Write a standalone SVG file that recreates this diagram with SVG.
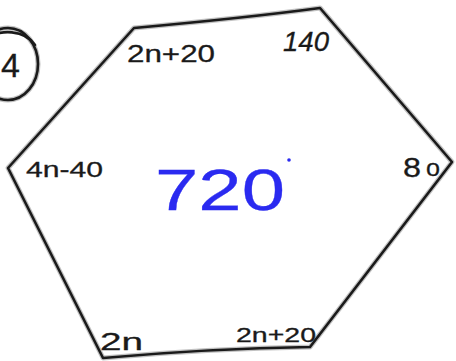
<svg xmlns="http://www.w3.org/2000/svg" width="456" height="361" viewBox="0 0 456 361">
<style>
.ink{fill:none;stroke:#1a1a1a;stroke-width:2.6;stroke-linecap:round;stroke-linejoin:round}
.halo{fill:none;stroke:#9a9a9a;stroke-width:5;stroke-linecap:round;stroke-linejoin:round;opacity:0.6}
.lbl{font-family:"Liberation Sans",Arial,sans-serif;fill:#1a1a1a;stroke:#1a1a1a;stroke-width:0.3}
.big{font-family:"Liberation Sans",Arial,sans-serif;fill:#2a2af0;stroke:#2a2af0;stroke-width:0.3}
</style>
<rect width="456" height="361" fill="#ffffff"/>
<g id="hexagon">
<path class="halo" d="M134,28 C200,22 260,16 320,8 L452,162 L310,347 C240,348 170,352 103,358 L8,168 Z"/>
<path class="ink" d="M134,28 C200,22 260,16 320,8 L452,162 L310,347 C240,348 170,352 103,358 L8,168 Z"/>
</g>
<g id="circle4">
<ellipse class="halo" cx="8" cy="64" rx="30" ry="36"/>
<ellipse class="ink" cx="8" cy="64" rx="30" ry="36"/>
<path class="ink" d="M-15,40 C0,28 25,30 35,45"/>
<text class="lbl" x="1" y="77" font-size="34">4</text>
</g>
<g id="labels">
<text class="lbl" x="127" y="62" font-size="24" textLength="88" lengthAdjust="spacingAndGlyphs">2n+20</text>
<text class="lbl" x="283" y="51" font-size="27" textLength="46" lengthAdjust="spacingAndGlyphs" font-style="italic">140</text>
<text class="lbl" x="26" y="177" font-size="22" textLength="77" lengthAdjust="spacingAndGlyphs">4n-40</text>
<text class="lbl" x="403" y="177" font-size="28" textLength="18" lengthAdjust="spacingAndGlyphs">8</text>
<text class="lbl" x="426" y="176" font-size="24" textLength="14" lengthAdjust="spacingAndGlyphs">o</text>
<text class="lbl" x="100" y="350" font-size="24" textLength="43" lengthAdjust="spacingAndGlyphs">2n</text>
<text class="lbl" x="236" y="342" font-size="20" textLength="80" lengthAdjust="spacingAndGlyphs">2n+20</text>
</g>
<g id="total">
<text class="big" x="155" y="210" font-size="58" textLength="130" lengthAdjust="spacingAndGlyphs">720</text>
<circle cx="289" cy="160" r="1.8" fill="#2a2af0"/>
</g>
</svg>
